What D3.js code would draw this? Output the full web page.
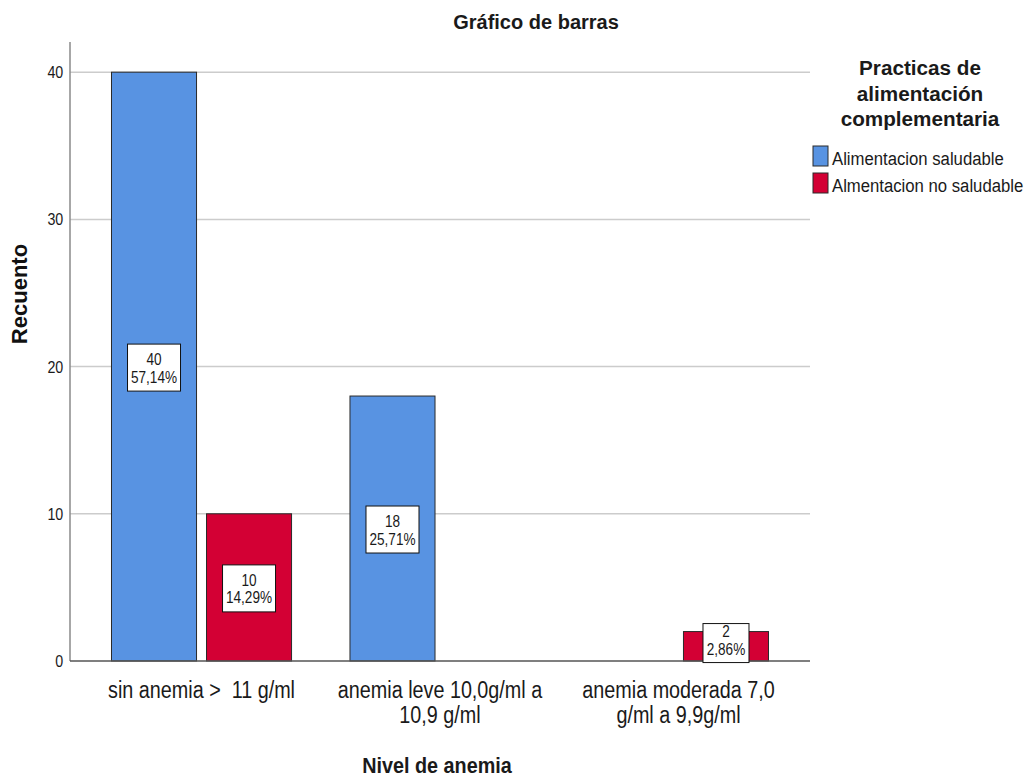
<!DOCTYPE html>
<html>
<head>
<meta charset="utf-8">
<script src="https://cdn.jsdelivr.net/npm/d3@7/dist/d3.min.js"></script>
<style>
  html, body { margin: 0; padding: 0; background: #fff; }
  svg { display: block; font-family: "Liberation Sans", Arial, sans-serif; }
  text { white-space: pre; }
</style>
</head>
<body>
<svg id="chart" width="1031" height="780"></svg>
<script>
// Anemia levels (x categories), with wrapped label lines
const categories = ["sin anemia", "anemia leve", "anemia moderada"];
const categoryLabels = [
  ["sin anemia >  11 g/ml"],
  ["anemia leve 10,0g/ml a", "10,9 g/ml"],
  ["anemia moderada 7,0", "g/ml a 9,9g/ml"]
];
const seriesNames = ["Alimentacion saludable", "Almentacion no saludable"];
// Counts per category for each series
const saludable = [40, 18, 0];
const noSaludable = [10, 0, 2];
const percentLabels = {
  "0-0": "57,14%", "0-1": "14,29%",
  "1-0": "25,71%", "2-1": "2,86%"
};
const yTicks = [0, 10, 20, 30, 40];
const colors = ["#5893e2", "#d30034"];

const svg = d3.select("#chart");
const plotLeft = 70, plotRight = 810, plotTop = 42, plotBottom = 661;

// text drawn with a horizontal squeeze around its anchor point
function label(parent, x, y, str, size, sx, opts = {}) {
  const g = parent.append("g").attr("transform", `translate(${x},${y}) scale(${sx},1)`);
  const t = g.append("text")
    .attr("text-anchor", opts.anchor || "middle")
    .attr("font-size", size)
    .attr("font-weight", opts.bold ? "bold" : "normal")
    .attr("fill", opts.fill || "#1a1a1a")
    .text(str);
  return t;
}

const x = d3.scaleBand().domain(categories).range([plotLeft, plotRight])
  .paddingInner(0.245).paddingOuter(0.174);
const xs = d3.scaleBand().domain([0, 1]).range([0, x.bandwidth()])
  .paddingInner(0.105);
const y = d3.scaleLinear().domain([0, 42.05]).range([plotBottom, plotTop]);

// horizontal gridlines
svg.append("g").selectAll("line").data(yTicks.filter(d => d > 0)).join("line")
  .attr("x1", plotLeft).attr("x2", plotRight)
  .attr("y1", d => y(d)).attr("y2", d => y(d))
  .attr("stroke", "#cccccc").attr("stroke-width", 1.5);

// y axis
const yAxis = svg.append("g").attr("transform", `translate(${plotLeft},0)`)
  .call(d3.axisLeft(y).tickValues(yTicks).tickSize(0).tickPadding(8));
yAxis.select(".domain").remove();
yAxis.selectAll("text")
  .attr("font-size", 17).attr("fill", "#1a1a1a")
  .attr("font-family", "Liberation Sans, Arial, sans-serif")
  .attr("transform", "scale(0.84,1)");
svg.append("line").attr("x1", plotLeft).attr("x2", plotLeft).attr("y1", plotTop).attr("y2", plotBottom)
  .attr("stroke", "#8a8a8a").attr("stroke-width", 1.5);

// bars
const rows = [];
categories.forEach((c, i) => {
  [saludable[i], noSaludable[i]].forEach((v, s) => {
    if (v > 0) rows.push({ c, i, s, v });
  });
});

svg.append("g").selectAll("rect").data(rows).join("rect")
  .attr("x", d => x(d.c) + xs(d.s))
  .attr("y", d => y(d.v))
  .attr("width", xs.bandwidth())
  .attr("height", d => plotBottom - y(d.v))
  .attr("fill", d => colors[d.s])
  .attr("stroke", "#2a2a2a").attr("stroke-width", 1);

// x axis baseline
svg.append("line").attr("x1", plotLeft).attr("x2", plotRight).attr("y1", plotBottom).attr("y2", plotBottom)
  .attr("stroke", "#555").attr("stroke-width", 1.5);

// value labels (count + percent) in white boxes
const labels = svg.append("g");
rows.forEach(d => {
  const cx = x(d.c) + xs(d.s) + xs.bandwidth() / 2;
  const barTop = y(d.v), barH = plotBottom - barTop;
  const pct = percentLabels[`${d.i}-${d.s}`];
  const w = pct.length >= 6 ? 53 : 46;
  let h, by;
  if (barH < 47) { h = 39; by = barTop - 8; }
  else { h = 47; by = (barTop + plotBottom) / 2 - h / 2 + 1; }
  labels.append("rect").attr("x", cx - w / 2).attr("y", by).attr("width", w).attr("height", h)
    .attr("fill", "#fff").attr("stroke", "#111").attr("stroke-width", 1);
  const mid = by + h / 2;
  const off = barH < 47 ? 3.5 : 0;
  label(labels, cx, mid - 2.5 - off, String(d.v), 17, 0.8);
  label(labels, cx, mid + 15 - off, pct, 17, 0.8);
});

// category labels
const xl = svg.append("g");
categories.forEach((c, i) => {
  categoryLabels[i].forEach((line, k) => {
    label(xl, x(c) + x.bandwidth() / 2, 698 + k * 25, line, 23, 0.86);
  });
});

// titles
label(svg, 536, 29, "Gráfico de barras", 20, 1, { bold: true });
label(svg, 437, 773, "Nivel de anemia", 22, 0.9, { bold: true });
svg.append("text").attr("transform", "translate(27,294) rotate(-90)").attr("text-anchor", "middle")
  .attr("font-size", 22).attr("font-weight", "bold").attr("fill", "#111").text("Recuento");

// legend
const legendTitle = ["Practicas de", "alimentación", "complementaria"];
legendTitle.forEach((t, i) => label(svg, 920, 75 + i * 25.5, t, 20.7, 1, { bold: true }));
const leg = svg.append("g").selectAll("g").data(seriesNames).join("g")
  .attr("transform", (d, i) => `translate(813,${146 + i * 27})`);
leg.append("rect").attr("width", 15).attr("height", 20)
  .attr("fill", (d, i) => colors[i]).attr("stroke", "#2a2a2a").attr("stroke-width", 1);
leg.each(function (d) {
  label(d3.select(this), 19, 19, d, 19, 0.88, { anchor: "start" });
});
</script>
</body>
</html>
